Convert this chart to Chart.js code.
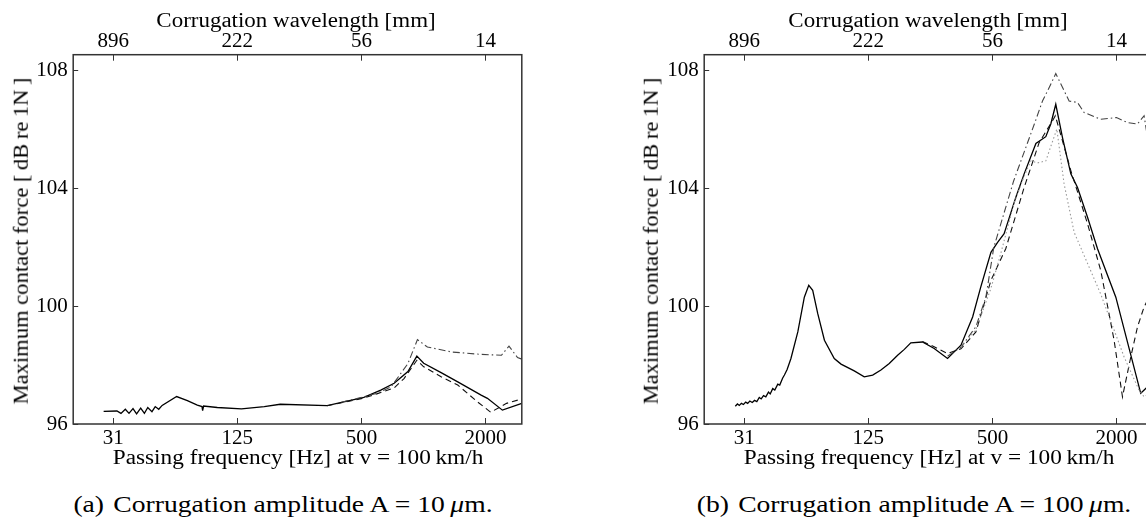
<!DOCTYPE html>
<html>
<head>
<meta charset="utf-8">
<script src="https://cdn.jsdelivr.net/npm/chart.js@4.4.1/dist/chart.umd.min.js"></script>
<style>
  html, body { margin:0; padding:0; background:#fff; width:1146px; height:523px; overflow:hidden; position:relative; }
  .panel { position:absolute; top:0; width:573px; height:480px; }
  .txt { position:absolute; font-family:"Liberation Serif","Times New Roman",serif; color:#000; white-space:nowrap; }
  .axt { font-size:20.5px; line-height:20.5px; }
  .cap { font-size:23.5px; line-height:23.5px; top:493px; transform:translateX(-50%) scaleX(1.175); }
  .ttl { top:9.5px; transform:translateX(-50%) scaleX(1.12); }
  .btl { top:446.8px; transform:translateX(-50%) scaleX(1.135); }
  .ytl { top:240.8px; transform:translate(-50%,-50%) rotate(-90deg) scaleX(1.1); }
</style>
</head>
<body>
<div class="panel" style="left:0px;"><canvas id="chartA" width="573" height="480"></canvas></div>
<div class="panel" style="left:631px;"><canvas id="chartB" width="573" height="480"></canvas></div>

<div class="txt axt ttl" style="left:296px;">Corrugation wavelength [mm]</div>
<div class="txt axt btl" style="left:298px;">Passing frequency [Hz] at v = 100&#8201;km/h</div>
<div class="txt axt ytl" style="left:21px;">Maximum contact force [&#8201;dB&#8201;re&#8201;1N&#8201;]</div>
<div class="txt cap" style="left:283px;">(a)&#8196;Corrugation amplitude A = 10&#8201;<i>μ</i>m.</div>

<div class="txt axt ttl" style="left:928px;">Corrugation wavelength [mm]</div>
<div class="txt axt btl" style="left:929px;">Passing frequency [Hz] at v = 100&#8201;km/h</div>
<div class="txt axt ytl" style="left:651px;">Maximum contact force [&#8201;dB&#8201;re&#8201;1N&#8201;]</div>
<div class="txt cap" style="left:914px;">(b)&#8196;Corrugation amplitude A = 100&#8201;<i>μ</i>m.</div>

<script>
// ---------- axis data ----------
const tickFreqs = [31.25, 125, 500, 2000];
const freqTickLabels = ['31', '125', '500', '2000'];
const wavelengthTickLabels = ['896', '222', '56', '14'];
const yTickValues = [96, 100, 104, 108];

// ---------- panel (a): A = 10 um ----------
const a10SolidF = [28.1, 32.6, 34.1, 35.8, 37.3, 39.0, 40.6, 42.5, 44.3, 46.0, 48.2, 50.0, 52.0, 54.0, 63.5, 71.6, 80.0, 84.3, 84.9, 85.8, 100, 131, 169, 202, 341, 514, 621, 721, 841, 929, 1003, 1218, 1467, 1905, 2043, 2416, 3000];
const a10SolidV = [96.43, 96.44, 96.36, 96.50, 96.36, 96.52, 96.34, 96.54, 96.36, 96.56, 96.42, 96.59, 96.50, 96.63, 96.93, 96.79, 96.64, 96.59, 96.45, 96.61, 96.56, 96.51, 96.59, 96.67, 96.62, 96.90, 97.15, 97.38, 97.78, 98.30, 98.06, 97.74, 97.43, 96.98, 96.87, 96.47, 96.70];
const a10DashF = [341, 400, 514, 599, 720, 805, 885, 929, 1003, 1218, 1467, 1830, 2120, 2530, 3000];
const a10DashV = [96.62, 96.72, 96.88, 97.03, 97.22, 97.54, 97.95, 98.16, 97.94, 97.60, 97.32, 96.75, 96.40, 96.70, 96.85];
const a10DashDotF = [400, 514, 600, 697, 841, 935, 1045, 1374, 1905, 2390, 2600, 2860, 3000];
const a10DashDotV = [96.74, 96.92, 97.05, 97.26, 98.05, 98.86, 98.61, 98.44, 98.36, 98.33, 98.64, 98.25, 98.20];

// ---------- panel (b): A = 100 um ----------
const a100SolidF = [28.3, 29.0, 29.6, 30.3, 31.0, 31.8, 32.5, 33.3, 34.2, 35.1, 36.0, 37.0, 37.8, 38.8, 39.8, 41.0, 41.8, 43.0, 44.0, 45.5, 46.5, 48.0, 49.0, 50.5, 52.7, 56.9, 61.2, 64.3, 67.2, 71.1, 76.6, 85.5, 92.2, 106.9, 119.5, 131.3, 144, 158, 173.5, 187, 201, 229, 261, 303, 352, 401, 439, 492, 530, 570, 650, 713, 813, 908, 960, 1015, 1094, 1201, 1294, 1447, 1618, 1985, 2622, 2830];
const a100SolidV = [96.60, 96.68, 96.63, 96.70, 96.66, 96.74, 96.70, 96.78, 96.73, 96.80, 96.76, 96.90, 96.85, 96.96, 96.92, 97.08, 97.02, 97.20, 97.15, 97.35, 97.32, 97.55, 97.66, 97.85, 98.22, 99.12, 100.30, 100.70, 100.53, 99.74, 98.84, 98.22, 98.03, 97.80, 97.60, 97.66, 97.83, 98.05, 98.33, 98.53, 98.75, 98.78, 98.56, 98.22, 98.67, 99.63, 100.64, 101.82, 102.16, 102.45, 103.69, 104.48, 105.51, 105.74, 106.17, 106.84, 105.71, 104.48, 104.02, 103.01, 101.94, 100.30, 97.04, 97.26];
const a100DashF = [229, 261, 303, 352, 416, 492, 581, 713, 843, 979, 1010, 1094, 1201, 1447, 1678, 1947, 2138, 2346, 2528, 2722, 2830];
const a100DashV = [98.80, 98.62, 98.39, 98.55, 99.12, 100.87, 101.95, 104.02, 105.54, 106.28, 106.45, 105.60, 104.59, 102.79, 101.20, 98.84, 96.92, 98.27, 99.29, 99.97, 100.20];
const a100DashDotF = [303, 352, 416, 465, 508, 634, 799, 875, 942, 1015, 1178, 1294, 1393, 1678, 2000, 2260, 2528, 2722, 2795, 2830];
const a100DashDotV = [98.30, 98.60, 99.30, 100.30, 101.99, 104.24, 106.17, 106.95, 107.40, 107.88, 106.95, 106.90, 106.56, 106.33, 106.39, 106.22, 106.17, 106.45, 105.94, 105.90];
const a100DotF = [352, 416, 492, 550, 638, 713, 768, 826, 908, 1027, 1114, 1246, 1678, 2178, 2573, 2722, 2830];
const a100DotV = [98.60, 99.20, 100.60, 101.80, 103.50, 104.40, 104.92, 104.85, 104.92, 106.00, 104.14, 102.50, 100.40, 98.27, 97.15, 96.92, 97.00];

// ---------- styles ----------
const FONT = '"Liberation Serif","Times New Roman",serif';
const F_MIN = 20, F_MAX = 3000, Y_MIN = 96, Y_MAX = 108.52;
const CH = 480;
const STYLE_SOLID = { color:'#000', width:1.3, dash:[] };
const STYLE_DASH = { color:'#111', width:1.1, dash:[6,4] };
const STYLE_DASHDOT = { color:'#444', width:1.1, dash:[7,3,1.5,3] };
const STYLE_DOT = { color:'#999', width:1.1, dash:[1.5,2.5] };

const framePlugin = {
  id: 'frame',
  afterDraw(chart) {
    const { ctx, chartArea: a, scales } = chart;
    ctx.save();
    ctx.strokeStyle = '#333';
    ctx.lineWidth = 1.5;
    ctx.strokeRect(a.left, a.top, a.right - a.left, a.bottom - a.top);
    ctx.lineWidth = 1;
    ctx.beginPath();
    tickFreqs.forEach(f => {
      const x = Math.round(scales.x.getPixelForValue(f)) + 0.5;
      ctx.moveTo(x, a.bottom); ctx.lineTo(x, a.bottom - 6);
      ctx.moveTo(x, a.top); ctx.lineTo(x, a.top + 6);
    });
    yTickValues.forEach(v => {
      const y = Math.round(scales.y.getPixelForValue(v)) + 0.5;
      ctx.moveTo(a.left, y); ctx.lineTo(a.left + 5, y);
    });
    ctx.stroke();
    ctx.restore();
  }
};

function ds(f, v, st) {
  return { data: f.map((x, i) => ({ x: x, y: v[i] })), borderColor: st.color, borderWidth: st.width,
           borderDash: st.dash, pointRadius: 0, fill: false, tension: 0, xAxisID: 'x', yAxisID: 'y' };
}

function makeChart(id, datasets) {
  const font = { family: FONT, size: 21 };
  return new Chart(document.getElementById(id), {
    type: 'line',
    data: { datasets: datasets },
    options: {
      responsive: false, animation: false, devicePixelRatio: 1,
      layout: { padding: { left: 0, right: 51.2, top: 0, bottom: 0 } },
      plugins: { legend: { display: false }, tooltip: { enabled: false } },
      scales: {
        x: {
          type: 'logarithmic', position: 'bottom', min: F_MIN, max: F_MAX,
          grid: { display: false, drawTicks: false }, border: { display: false },
          afterBuildTicks: sc => { sc.ticks = tickFreqs.map(v => ({ value: v })); },
          ticks: { autoSkip: false, maxRotation: 0, padding: 1.7, color: '#000', font: font,
                   callback: (v, i) => freqTickLabels[i] },
          afterFit: sc => { sc.height = CH - 424; }
        },
        x2: {
          type: 'logarithmic', position: 'top', min: F_MIN, max: F_MAX,
          grid: { display: false, drawTicks: false }, border: { display: false },
          afterBuildTicks: sc => { sc.ticks = tickFreqs.map(v => ({ value: v })); },
          ticks: { autoSkip: false, maxRotation: 0, padding: 0.5, color: '#000', font: font,
                   callback: (v, i) => wavelengthTickLabels[i] },
          afterFit: sc => { sc.height = 54.7; }
        },
        y: {
          type: 'linear', position: 'left', min: Y_MIN, max: Y_MAX,
          grid: { display: false, drawTicks: false }, border: { display: false },
          afterBuildTicks: sc => { sc.ticks = yTickValues.map(v => ({ value: v })); },
          ticks: { padding: 5.5, color: '#000', font: font, callback: v => String(v) },
          afterFit: sc => { sc.width = 73.2; }
        }
      }
    },
    plugins: [framePlugin]
  });
}

makeChart('chartA', [
  ds(a10DashDotF, a10DashDotV, STYLE_DASHDOT),
  ds(a10DashF, a10DashV, STYLE_DASH),
  ds(a10SolidF, a10SolidV, STYLE_SOLID)
]);
makeChart('chartB', [
  ds(a100DotF, a100DotV, STYLE_DOT),
  ds(a100DashDotF, a100DashDotV, STYLE_DASHDOT),
  ds(a100DashF, a100DashV, STYLE_DASH),
  ds(a100SolidF, a100SolidV, STYLE_SOLID)
]);
</script>
</body>
</html>
